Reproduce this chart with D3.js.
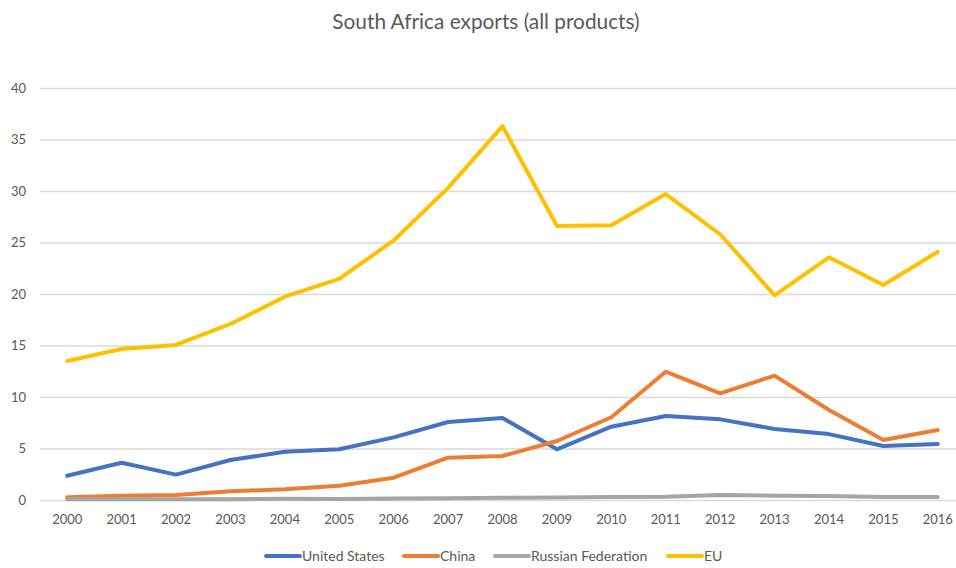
<!DOCTYPE html>
<html>
<head>
<meta charset="utf-8">
<script src="https://cdn.jsdelivr.net/npm/d3@7"></script>
<style>
  html, body { margin: 0; padding: 0; background: #fff; }
  svg { display: block; }
  text { font-family: Lato, "Open Sans", sans-serif; fill: #595959; }
</style>
</head>
<body>
<svg id="chart" width="956" height="568"></svg>
<script>
// Exports by destination, billions
const years = ["2000","2001","2002","2003","2004","2005","2006","2007","2008",
               "2009","2010","2011","2012","2013","2014","2015","2016"];
const unitedStates = [2.36, 3.62, 2.46, 3.88, 4.69, 4.92, 6.08, 7.57, 7.96,
                      4.92, 7.12, 8.16, 7.83, 6.89, 6.4, 5.24, 5.44];
const china = [0.26, 0.42, 0.49, 0.84, 1.05, 1.39, 2.17, 4.11, 4.27,
               5.73, 8.03, 12.46, 10.35, 12.07, 8.74, 5.83, 6.8];
const russia = [0.07, 0.07, 0.07, 0.08, 0.12, 0.1, 0.14, 0.16, 0.22,
                0.24, 0.29, 0.32, 0.49, 0.42, 0.39, 0.29, 0.29];
const eu = [13.5, 14.66, 15.05, 17.09, 19.74, 21.46, 25.2, 30.3, 36.3,
            26.6, 26.67, 29.7, 25.8, 19.87, 23.56, 20.87, 24.1];
const yTicks = [0, 5, 10, 15, 20, 25, 30, 35, 40];

const seriesNames = ["United States", "China", "Russian Federation", "EU"];
const seriesValues = [unitedStates, china, russia, eu];
const seriesColors = ["#4472C4", "#ED7D31", "#A5A5A5", "#FFC000"];

const series = seriesNames.map((name, i) => ({
  name, color: seriesColors[i],
  values: years.map((y, j) => ({ year: y, value: seriesValues[i][j] }))
}));

const svg = d3.select("#chart");
const plotLeft = 40, plotRight = 965, plotTop = 88, plotBottom = 500;

const x = d3.scaleBand().domain(years).range([plotLeft, plotRight]);
const xc = d => x(d) + x.bandwidth() / 2;
const y = d3.scaleLinear().domain([0, 40]).range([plotBottom, plotTop]);

// Title
svg.append("text")
  .attr("x", 486).attr("y", 29)
  .attr("text-anchor", "middle")
  .style("font-size", "20.8px")
  .text("South Africa exports (all products)");

// Horizontal gridlines with value labels
const yAxis = d3.axisLeft(y).tickValues(yTicks)
  .tickSize(-(plotRight - plotLeft)).tickPadding(14);
const gy = svg.append("g").attr("transform", `translate(${plotLeft},0)`).call(yAxis);
gy.select(".domain").remove();
gy.selectAll(".tick line").attr("stroke", "#D9D9D9").attr("stroke-width", 1.3);
gy.selectAll(".tick text").style("font-size", "13px").attr("fill", "#595959");

// Category labels along the bottom
const xAxis = d3.axisBottom(x).tickSize(0).tickPadding(15);
const gx = svg.append("g").attr("transform", `translate(0,${plotBottom})`).call(xAxis);
gx.select(".domain").remove();
gx.selectAll(".tick text").style("font-size", "13px").attr("fill", "#595959");

// Series lines
const line = d3.line().x(d => xc(d.year)).y(d => y(d.value));
svg.append("g").selectAll("path")
  .data(series).join("path")
  .attr("d", d => line(d.values))
  .attr("fill", "none")
  .attr("stroke", d => d.color)
  .attr("stroke-width", 4)
  .attr("stroke-linejoin", "round")
  .attr("stroke-linecap", "round");

// Legend
const legendX = [266, 404, 495, 668];
const legend = svg.append("g").attr("transform", "translate(0,556)");
const items = legend.selectAll("g").data(series).join("g")
  .attr("transform", (d, i) => `translate(${legendX[i]},0)`);
items.append("line")
  .attr("x1", 0).attr("x2", 34).attr("y1", 0).attr("y2", 0)
  .attr("stroke", d => d.color).attr("stroke-width", 4)
  .attr("stroke-linecap", "round");
items.append("text")
  .attr("x", 36).attr("y", 0).attr("dy", "0.35em")
  .style("font-size", "14px")
  .text(d => d.name);
</script>
</body>
</html>
